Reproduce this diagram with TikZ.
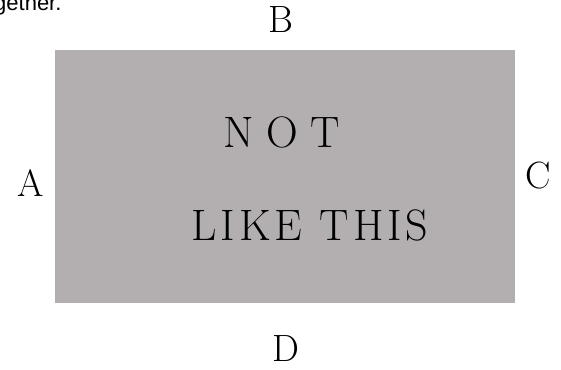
\documentclass[tikz,border=0pt]{standalone}
\usepackage{fontspec}
\setmainfont{Latin Modern Roman}
\newfontfamily\capfont{Latin Modern Roman}
\newfontfamily\notfont[LetterSpace=28]{Latin Modern Roman}
\newfontfamily\likefont[LetterSpace=9]{Latin Modern Roman}
\newfontfamily\topfont{Liberation Sans}
\definecolor{panelgrey}{RGB}{179,175,176}
\tikzset{
  lbl/.style={font=\capfont\fontsize{38}{42}\selectfont, text=black, inner sep=0pt},
  inner/.style={text=black, inner sep=0pt}
}
\begin{document}
\begin{tikzpicture}[x=1pt,y=-1pt]
\useasboundingbox (0,0) rectangle (561,369);
\fill[white] (0,0) rectangle (561,369);
\node[anchor=base west, inner sep=0pt, font=\topfont\fontsize{22}{24}\selectfont] (top) at (-6,11) {gether.};
\node[fill=panelgrey, minimum width=460pt, minimum height=253pt, inner sep=0pt, anchor=north west] (panel) at (55,50) {};
\node[inner, anchor=base, font=\notfont\fontsize{44}{48}\selectfont] (not) at (282,147) {NOT};
\node[inner, anchor=base, font=\likefont\fontsize{44}{48}\selectfont] (like) at (310,240) {LIKE THIS};
\node[lbl, anchor=base] (B) at (281,33) {B};
\node[lbl, anchor=base] (A) at (31,196) {A};
\node[lbl, anchor=base] (C) at (538,188) {C};
\node[lbl, anchor=base] (D) at (286,361) {D};
\end{tikzpicture}
\end{document}
